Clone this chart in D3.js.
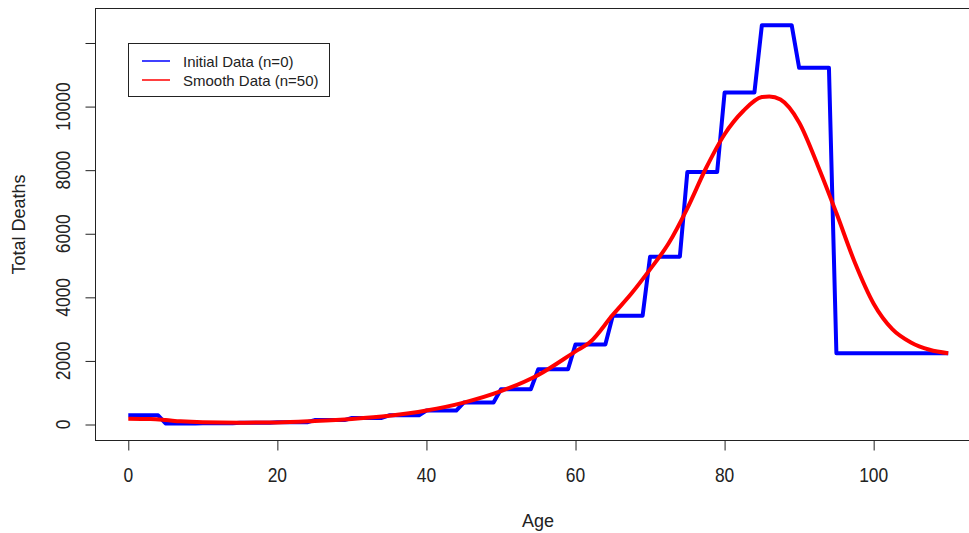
<!DOCTYPE html>
<html>
<head>
<meta charset="utf-8">
<script src="https://cdn.jsdelivr.net/npm/d3@7"></script>
<style>
  html, body { margin: 0; padding: 0; background: #fff; }
  svg { display: block; }
  text { font-family: Arial, "Liberation Sans", sans-serif; fill: #222; }
</style>
</head>
<body>
<svg id="chart" width="969" height="533"></svg>
<script>
// ---- Data ----
// Initial data: 5-year age groups (deaths constant within group)
const groupStart  = [0, 5, 10, 15, 20, 25, 30, 35, 40, 45, 50, 55, 60, 65, 70, 75, 80, 85, 90, 95];
const groupEnd    = [4, 9, 14, 19, 24, 29, 34, 39, 44, 49, 54, 59, 64, 69, 74, 79, 84, 89, 94, 110];
const groupDeaths = [290, 35, 40, 55, 70, 140, 205, 290, 440, 690, 1110, 1740, 2520, 3420, 5280, 7940, 10440, 12560, 11220, 2240];

// Smoothed data (n=50)
const smoothAges   = [0, 3, 5, 7, 10, 15, 20, 25, 30, 35, 40, 45, 50, 55, 60, 62, 65, 67.5, 70, 72.5, 75, 77.5, 80, 82.5, 85, 86, 87.5, 90, 92.5, 95, 97.5, 100, 102.5, 105, 107.5, 110];
const smoothDeaths = [180, 170, 140, 100, 70, 58, 65, 110, 175, 275, 440, 690, 1050, 1560, 2300, 2600, 3450, 4120, 4880, 5700, 6800, 8060, 9130, 9860, 10300, 10320, 10220, 9500, 8150, 6650, 5080, 3800, 3000, 2580, 2350, 2240];

const xTicks = [0, 20, 40, 60, 80, 100];
const xTickLabels = ["0", "20", "40", "60", "80", "100"];
const yTicks = [0, 2000, 4000, 6000, 8000, 10000, 12000];
const yTickLabels = ["0", "2000", "4000", "6000", "8000", "10000", ""];

const legendLabels = ["Initial Data (n=0)", "Smooth Data (n=50)"];
const seriesColors = ["#0000FF", "#FF0000"];

// ---- Layout ----
const svg = d3.select("#chart");
const plot = { left: 95.5, right: 981, top: 8.5, bottom: 440.5 };

const x = d3.scaleLinear().domain([-4.4, 114.4]).range([plot.left, plot.right]);
const y = d3.scaleLinear().domain([-503, 13085]).range([plot.bottom, plot.top]);

// Lines
const bluePts = [];
groupStart.forEach((s, i) => { bluePts.push([s, groupDeaths[i]]); bluePts.push([groupEnd[i], groupDeaths[i]]); });
const redPts = smoothAges.map((a, i) => [a, smoothDeaths[i]]);

const line = d3.line().x(d => x(d[0])).y(d => y(d[1]));
const smoothLine = d3.line().x(d => x(d[0])).y(d => y(d[1])).curve(d3.curveMonotoneX);

svg.append("path").datum(bluePts).attr("d", line)
  .attr("fill", "none").attr("stroke", seriesColors[0]).attr("stroke-width", 4).attr("stroke-linejoin", "round");
svg.append("path").datum(redPts).attr("d", smoothLine)
  .attr("fill", "none").attr("stroke", seriesColors[1]).attr("stroke-width", 4).attr("stroke-linejoin", "round");

// Box
svg.append("rect").attr("x", plot.left).attr("y", plot.top)
  .attr("width", plot.right - plot.left).attr("height", plot.bottom - plot.top)
  .attr("fill", "none").attr("stroke", "#222").attr("stroke-width", 1);

// X axis
const xAxis = svg.append("g").attr("transform", `translate(0,${plot.bottom})`)
  .call(d3.axisBottom(x).tickValues(xTicks).tickSize(10).tickSizeOuter(0).tickFormat((d, i) => ""));
xAxis.select(".domain").remove();
xAxis.selectAll(".tick line").attr("stroke", "#222");
xTicks.forEach((t, i) => {
  svg.append("text")
    .attr("transform", `translate(${x(t)},482) scale(0.83,1)`)
    .attr("text-anchor", "middle").attr("font-size", 21).text(xTickLabels[i]);
});

// Y axis
const yAxis = svg.append("g").attr("transform", `translate(${plot.left},0)`)
  .call(d3.axisLeft(y).tickValues(yTicks).tickSize(10).tickSizeOuter(0).tickFormat(() => ""));
yAxis.select(".domain").remove();
yAxis.selectAll(".tick line").attr("stroke", "#222");
yTicks.forEach((t, i) => {
  svg.append("text")
    .attr("transform", `translate(70,${y(t)}) rotate(-90) scale(0.83,1)`)
    .attr("text-anchor", "middle").attr("font-size", 21).text(yTickLabels[i]);
});

// Axis titles
svg.append("text").attr("x", 538).attr("y", 527).attr("text-anchor", "middle")
  .attr("font-size", 18).text("Age");
svg.append("text").attr("transform", `translate(25,${(plot.top + plot.bottom) / 2}) rotate(-90)`)
  .attr("text-anchor", "middle").attr("font-size", 18).text("Total Deaths");

// Legend
const lg = svg.append("g");
lg.append("rect").attr("x", 128.5).attr("y", 43.5).attr("width", 201).attr("height", 53)
  .attr("fill", "#fff").attr("stroke", "#222").attr("stroke-width", 1);
legendLabels.forEach((lab, i) => {
  const cy = 61 + i * 19;
  lg.append("line").attr("x1", 142).attr("x2", 170).attr("y1", cy).attr("y2", cy)
    .attr("stroke", seriesColors[i]).attr("stroke-width", 1.5);
  lg.append("text").attr("x", 183).attr("y", cy + 5.5).attr("font-size", 15).text(lab);
});
</script>
</body>
</html>
